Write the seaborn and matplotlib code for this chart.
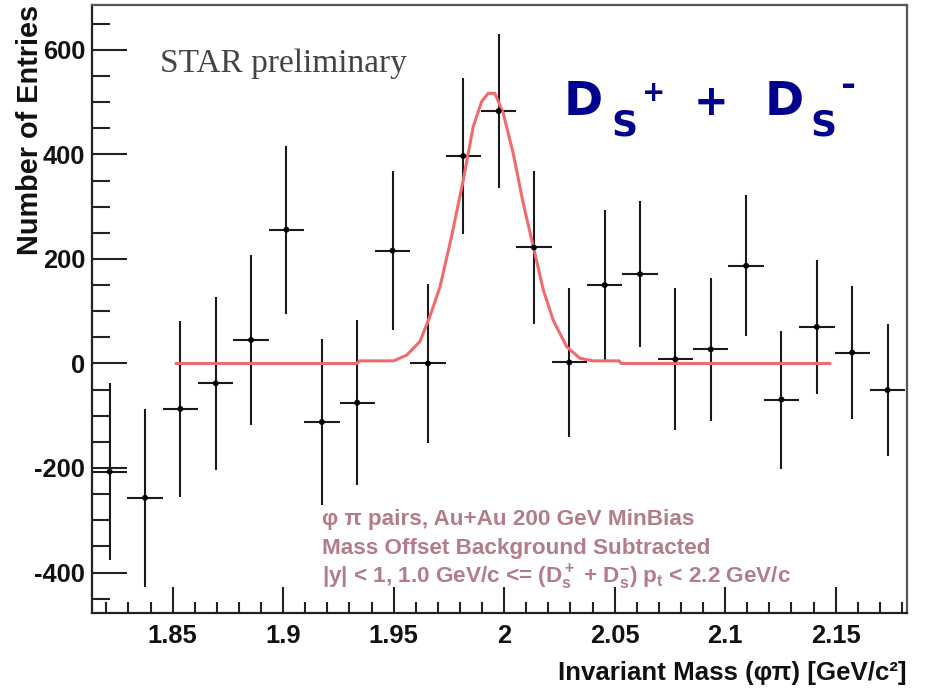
import numpy as np
import pandas as pd
import matplotlib
matplotlib.use("Agg")
import matplotlib.pyplot as plt
import seaborn as sns
from matplotlib.ticker import MultipleLocator

# ---- data ----
mass = [1.8215, 1.8375, 1.8535, 1.8695, 1.8855, 1.9015, 1.9175, 1.9335,
        1.9495, 1.9655, 1.9815, 1.9975, 2.0135, 2.0295, 2.0455, 2.0615,
        2.0775, 2.0935, 2.1095, 2.1255, 2.1415, 2.1575, 2.1735]
entries = [-207, -257, -87, -38, 45, 256, -112, -75, 216, 0, 397, 483,
           222, 2, 150, 171, 8, 27, 187, -69, 70, 21, -51]
errors = [170, 170, 168, 165, 163, 161, 158, 158, 152, 152, 150, 148,
          146, 143, 143, 140, 136, 137, 135, 132, 128, 128, 126]
bin_half_width = 0.008

fit_x = [1.8515, 1.9335, 1.9345, 1.9500, 1.9559, 1.9619, 1.9664, 1.9710,
         1.9762, 1.9815, 1.9860, 1.9898, 1.9928, 1.9958, 1.9996, 2.0041,
         2.0086, 2.0132, 2.0177, 2.0222, 2.0283, 2.0343, 2.0403, 2.0520,
         2.0530, 2.1475]
fit_y = [0, 0, 5, 5, 16, 42, 90, 147, 243, 351, 453, 501, 517, 517, 479,
         402, 307, 224, 141, 83, 32, 10, 5, 5, 0, 0]

x_ticks = [1.85, 1.9, 1.95, 2.0, 2.05, 2.1, 2.15]
x_tick_labels = ["1.85", "1.9", "1.95", "2", "2.05", "2.1", "2.15"]
y_ticks = [-400, -200, 0, 200, 400, 600]

df = pd.DataFrame({"mass": mass, "entries": entries, "err": errors})
fit_df = pd.DataFrame({"mass": fit_x, "fit": fit_y})

# ---- style ----
sns.set_style("ticks")
plt.rcParams["font.family"] = ["Liberation Sans", "DejaVu Sans"]
plt.rcParams["axes.unicode_minus"] = False
plt.rcParams["mathtext.fontset"] = "custom"
plt.rcParams["mathtext.rm"] = "Liberation Sans:bold"
plt.rcParams["mathtext.it"] = "Liberation Sans:bold"
plt.rcParams["mathtext.bf"] = "Liberation Sans:bold"

fig = plt.figure(figsize=(9.26, 6.92), dpi=100)
L, R, B, T = 92, 907, 613, 5
W, H = 926, 692
ax = fig.add_axes([L / W, 1 - B / H, (R - L) / W, (B - T) / H])

# fit curve
sns.lineplot(data=fit_df, x="mass", y="fit", ax=ax, color="#f06a6e",
             lw=2.2, sort=False, estimator=None, zorder=3)

# data points with error bars
ax.errorbar(df["mass"], df["entries"], yerr=df["err"], xerr=bin_half_width,
            fmt="none", ecolor="#1a1a1a", elinewidth=1.5, capsize=0, zorder=2)
sns.scatterplot(data=df, x="mass", y="entries", ax=ax, color="black",
                s=18, edgecolor="none", zorder=4)

ax.set_xlim(1.8135, 2.1823)
ax.set_ylim(-477.5, 686)

ax.set_xticks(x_ticks)
ax.set_xticklabels(x_tick_labels)
ax.set_yticks(y_ticks)
ax.xaxis.set_minor_locator(MultipleLocator(0.01))
ax.yaxis.set_minor_locator(MultipleLocator(50))

ax.tick_params(axis="both", which="both", bottom=True, left=True,
               top=False, right=False)
ax.tick_params(axis="y", which="major", direction="in", length=25, width=1.5,
               pad=5, labelsize=18.4, color="#222222")
ax.tick_params(axis="y", which="minor", direction="in", length=13, width=1.5,
               color="#222222")
ax.tick_params(axis="x", which="major", direction="in", length=19, width=1.5,
               pad=8, labelsize=18.4, color="#222222")
ax.tick_params(axis="x", which="minor", direction="in", length=8, width=1.5,
               color="#222222")
for lab in ax.get_xticklabels() + ax.get_yticklabels():
    lab.set_fontweight("bold")
    lab.set_color("#111111")

for s in ["left", "bottom"]:
    ax.spines[s].set_color("#222222")
    ax.spines[s].set_linewidth(1.6)
for s in ["top", "right"]:
    ax.spines[s].set_visible(True)
    ax.spines[s].set_color("#555555")
    ax.spines[s].set_linewidth(1.6)

ax.set_xlabel("Invariant Mass (φπ) [GeV/c²]", fontsize=18.6,
              fontweight="bold", ha="right", va="center", color="#111111")
ax.xaxis.set_label_coords(1.0, (B - 673) / (B - T))
ax.set_ylabel("Number of Entries", fontsize=20.8, fontweight="bold",
              ha="right", va="center", rotation=90, rotation_mode="anchor",
              color="#111111")
ax.yaxis.set_label_coords((30 - L) / (R - L), 1.0)

def axfrac(px, py):
    return (px - L) / (R - L), (B - py) / (B - T)

# STAR preliminary
x0, y0 = axfrac(160, 72)
ax.text(x0, y0, "STAR preliminary", transform=ax.transAxes,
        family=["Liberation Serif", "DejaVu Serif"], fontsize=24,
        color="#444444", ha="left", va="baseline")

# Ds+ + Ds- title, placed glyph by glyph
title_color = "#00008f"
title_parts = [
    # (left px, baseline px, text, fontsize)
    (564, 115, "D", 34),
    (611, 136, "S", 26),
    (642, 101, "+", 20),
    (694, 115, "+", 30),
    (765, 115, "D", 34),
    (810, 136, "S", 26),
    (841, 96, "-", 26),
]
for px, py, txt, fs in title_parts:
    x0, y0 = axfrac(px, py)
    ax.text(x0, y0, txt, transform=ax.transAxes, fontsize=fs,
            family=["DejaVu Sans"], fontweight="bold", color=title_color,
            ha="left", va="baseline")

# annotation lines
ann_color = "#b27d88"
lines = [
    (525, "φ π pairs, Au+Au 200 GeV MinBias"),
    (554, "Mass Offset Background Subtracted"),
    (583, r"|y| < 1, 1.0 GeV/c <= (D$_s^+$ + D$_s^{-}$) p$_t$ < 2.2 GeV/c"),
]
for py, txt in lines:
    x0, y0 = axfrac(322, py)
    ax.text(x0, y0, txt, transform=ax.transAxes, fontsize=16.2,
            fontweight="bold", color=ann_color, ha="left", va="baseline")

fig.savefig("out.png", dpi=100)
